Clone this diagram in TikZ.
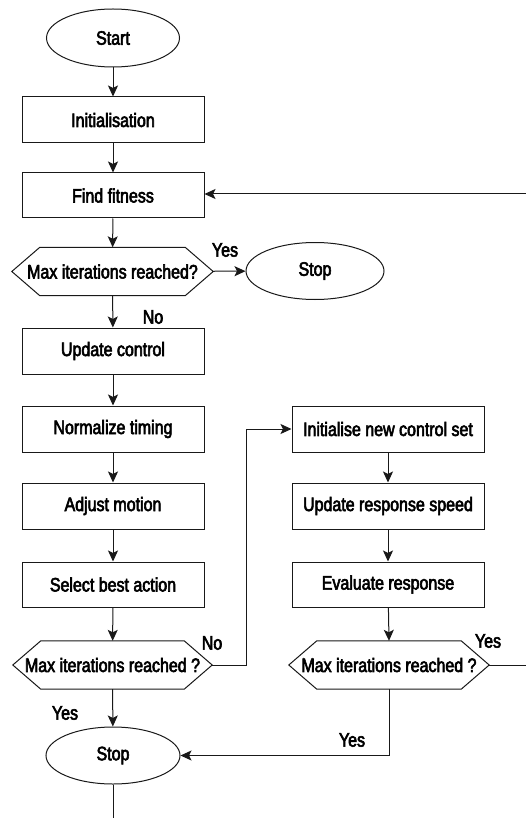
\documentclass[tikz,border=0pt]{standalone}
\usepackage{fontspec}
\setmainfont{Liberation Sans}[FakeStretch=0.82,FakeBold=3]
\usetikzlibrary{arrows.meta,shapes.geometric,calc}
\tikzset{
  ln/.style={line width=1pt,draw=black!90},
  arr/.style={ln,-{Stealth[length=11pt,width=10pt,inset=2.5pt]}},
  txt/.style={font=\fontsize{19.5}{21}\selectfont},
  box/.style={txt,draw=black!90,line width=1pt,rectangle,minimum height=46pt,inner sep=0pt},
  lbox/.style={box,minimum width=182pt},
  rbox/.style={box,minimum width=192pt},
  term/.style={txt,draw=black!90,line width=1pt,ellipse,inner sep=0pt},
  hexn/.style={txt,rectangle,inner sep=0pt,minimum height=48pt},
  lbl/.style={txt,inner sep=0pt},
}
\newcommand{\hexdraw}[1]{\draw[ln] (#1.west) -- ([xshift=28pt]#1.north west) -- ([xshift=-28pt]#1.north east) -- (#1.east) -- ([xshift=-28pt]#1.south east) -- ([xshift=28pt]#1.south west) -- cycle;}
\begin{document}
\begin{tikzpicture}[x=1pt,y=-1pt]
\useasboundingbox[fill=white] (0,0) rectangle (525,818);
\node[term,minimum width=133pt,minimum height=58pt] (start) at (113,38) {Start};
\node[lbox] (init) at (113,120) {Initialisation};
\node[lbox,minimum height=45pt] (fit) at (113,195.5) {Find fitness};
\node[hexn,minimum width=201pt] (d1) at (112.5,271.5) {Max iterations reached?};
\hexdraw{d1}
\node[term,minimum width=138pt,minimum height=57pt] (stop1) at (315,271) {Stop};
\node[lbl] (yes1) at (225,250) {Yes};
\node[lbl] (no1) at (153,317) {No};
\node[lbox] (upd) at (113,351) {Update control};
\node[lbox] (norm) at (113,429) {Normalize timing};
\node[lbox] (adj) at (113,506) {Adjust motion};
\node[lbox,minimum height=45pt] (sel) at (113,584.5) {Select best action};
\node[hexn,minimum width=199pt] (d2) at (112.5,665) {Max iterations reached ?};
\hexdraw{d2}
\node[rbox] (init2) at (388,429) {Initialise new control set};
\node[rbox] (urs) at (388,506) {Update response speed};
\node[rbox,minimum height=45pt] (eval) at (388,584.5) {Evaluate response};
\node[hexn,minimum width=200pt] (d3) at (389,665) {Max iterations reached ?};
\hexdraw{d3}
\node[term,minimum width=134pt,minimum height=57pt] (stop2) at (113,755.5) {Stop};
\node[lbl] (no2) at (212,643) {No};
\node[lbl] (yes2) at (488,641) {Yes};
\node[lbl] (yes3) at (65,713) {Yes};
\node[lbl] (yes4) at (352,740) {Yes};
\coordinate (endpt) at (113,822);
\draw[arr] (start) -- (init);
\draw[arr] (init) -- (fit);
\draw[arr] (fit) -- (d1);
\draw[arr] (d1) -- (stop1);
\draw[arr] (d1) -- (upd);
\draw[arr] (upd) -- (norm);
\draw[arr] (norm) -- (adj);
\draw[arr] (adj) -- (sel);
\draw[arr] (sel) -- (d2);
\draw[arr] (d2.east) -- (246,665) |- (init2.west);
\draw[arr] (init2) -- (urs);
\draw[arr] (urs) -- (eval);
\draw[arr] (eval) -- (d3.north);
\draw[arr] (d3.east) -- (529,665) |- ([yshift=1.5pt]fit.east);
\draw[arr] (d2) -- (stop2);
\draw[arr] (d3.south) |- (stop2.east);
\draw[ln] (stop2.south) -- (endpt);
\end{tikzpicture}
\end{document}
